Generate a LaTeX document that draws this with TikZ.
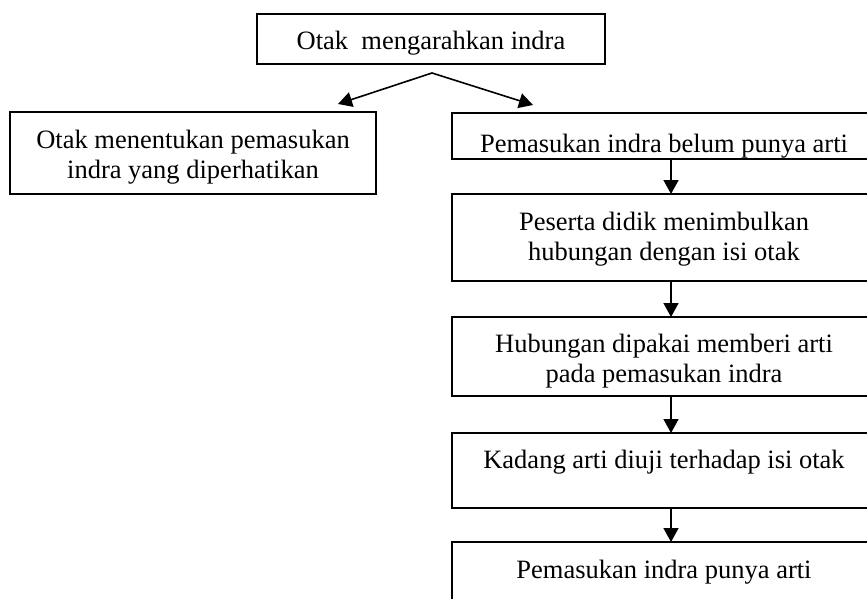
\documentclass[tikz,border=0pt]{standalone}
\usepackage{fontspec}
\setmainfont{Liberation Serif}
\usetikzlibrary{arrows.meta,calc}
\begin{document}
\begin{tikzpicture}[x=1pt,y=-1pt,
  box/.style={draw=black, line width=1.6pt, inner sep=0pt, outer sep=0pt, minimum width=#1},
  box/.default=424pt,
  txt/.style={anchor=base, align=center, inner sep=0pt,
    font=\fontsize{26.5}{29.5}\selectfont},
  arr/.style={line width=1.6pt, -{Triangle[length=14pt,width=15pt]}}]
\useasboundingbox (0,0) rectangle (867,599);
\clip (0,0) rectangle (867,599);
% boxes
\node[box=348pt, minimum height=50pt] (top) at (431,39) {};
\node[txt] (ttop) at (431,50) {Otak\ \ mengarahkan indra};
\node[box=366pt, minimum height=82pt] (left) at (193,153) {};
\node[txt] (tleft) at (193,178) {Otak menentukan pemasukan\\indra yang diperhatikan};
\node[box, minimum height=46pt] (b1) at (664,136) {};
\node[box, minimum height=87pt] (b2) at (664,237.5) {};
\node[box, minimum height=79pt] (b3) at (664,356.5) {};
\node[box, minimum height=75pt] (b4) at (664,470.5) {};
\node[box, minimum height=78pt] (b5) at (664,581) {};
% texts clipped to their boxes
\begin{scope}
\clip (b1.south west) rectangle (b1.north east);
\node[txt] (t1) at (664,153) {Pemasukan indra belum punya arti};
\end{scope}
\node[txt] (t2) at (664,260) {Peserta didik menimbulkan\\hubungan dengan isi otak};
\begin{scope}
\clip (b3.south west) rectangle (b3.north east);
\node[txt] (t3) at (664,382) {Hubungan dipakai memberi arti\\pada pemasukan indra};
\end{scope}
\node[txt] (t4) at (664,468) {Kadang arti diuji terhadap isi otak};
\node[txt] (t5) at (664,578) {Pemasukan indra punya arti};
% redraw borders over clipped text
\foreach \b in {b1,b3} \draw[line width=1.6pt] (\b.south west) rectangle (\b.north east);
% connectors
\coordinate (apex) at (432,73);
\coordinate (ltip) at (338,104);
\coordinate (rtip) at (533,105);
\coordinate (ax) at (671,0);
\draw[arr] (apex) -- (ltip);
\draw[arr] (apex) -- (rtip);
\draw[arr] (b1.south -| ax) -- (b2.north -| ax);
\draw[arr] (b2.south -| ax) -- (b3.north -| ax);
\draw[arr] (b3.south -| ax) -- (b4.north -| ax);
\draw[arr] (b4.south -| ax) -- (b5.north -| ax);
\end{tikzpicture}
\end{document}
